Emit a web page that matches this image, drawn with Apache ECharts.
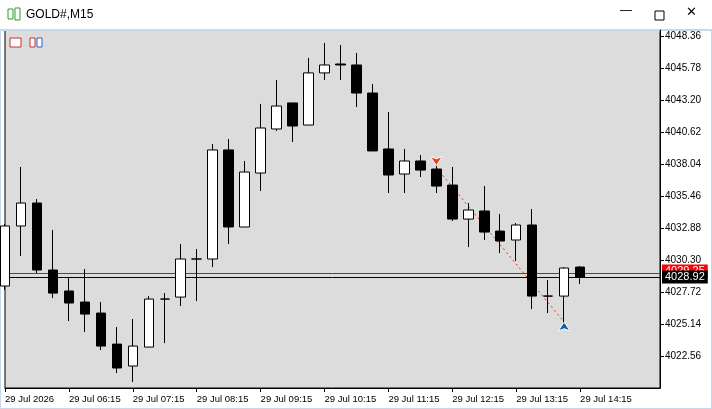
<!DOCTYPE html>
<html>
<head>
<meta charset="utf-8">
<script src="https://cdn.jsdelivr.net/npm/echarts@6/dist/echarts.min.js"></script>
<style>
  html, body { margin: 0; padding: 0; background: #fff; }
  #main { width: 712px; height: 409px; }
</style>
</head>
<body>
<div id="main"></div>
<script>
// M15 时间
var times = ['05:15','05:30','05:45','06:00','06:15','06:30','06:45','07:00','07:15','07:30','07:45','08:00',
  '08:15','08:30','08:45','09:00','09:15','09:30','09:45','10:00','10:15','10:30','10:45','11:00',
  '11:15','11:30','11:45','12:00','12:15','12:30','12:45','13:00','13:15','13:30','13:45','14:00',
  '14:15','14:30','14:45','15:00','15:15','15:30'];

// [open, close, low, high]
var candles = [
  [4028.20, 4033.04, 4027.90, 4033.20],
  [4033.04, 4034.89, 4030.62, 4037.80],
  [4034.89, 4029.49, 4029.25, 4035.21],
  [4029.49, 4027.63, 4027.23, 4032.72],
  [4027.80, 4026.83, 4025.38, 4028.92],
  [4026.91, 4025.94, 4024.49, 4029.57],
  [4026.02, 4023.36, 4023.04, 4026.91],
  [4023.52, 4021.59, 4021.18, 4024.89],
  [4021.75, 4023.36, 4020.46, 4025.54],
  [4023.28, 4027.15, 4023.28, 4027.39],
  [4027.15, 4027.15, 4023.60, 4027.63],
  [4027.31, 4030.38, 4026.59, 4031.59],
  [4030.38, 4030.38, 4026.99, 4031.18],
  [4030.38, 4039.17, 4029.73, 4039.65],
  [4039.17, 4032.96, 4031.59, 4040.05],
  [4032.96, 4037.39, 4032.96, 4038.28],
  [4037.31, 4040.94, 4035.86, 4042.88],
  [4040.86, 4042.71, 4040.70, 4044.81],
  [4042.96, 4041.10, 4039.81, 4042.96],
  [4041.18, 4045.38, 4041.18, 4046.59],
  [4045.38, 4046.02, 4044.81, 4047.80],
  [4046.10, 4046.02, 4044.81, 4047.63],
  [4046.02, 4043.76, 4042.63, 4046.99],
  [4043.76, 4039.09, 4039.09, 4044.49],
  [4039.25, 4037.15, 4035.70, 4042.23],
  [4037.23, 4038.28, 4035.70, 4039.25],
  [4038.28, 4037.55, 4036.99, 4038.76],
  [4037.63, 4036.26, 4035.70, 4038.36],
  [4036.34, 4033.60, 4033.44, 4037.80],
  [4033.60, 4034.33, 4031.34, 4034.89],
  [4034.25, 4032.55, 4031.91, 4036.26],
  [4032.63, 4031.83, 4030.86, 4034.01],
  [4031.91, 4033.12, 4030.22, 4033.28],
  [4033.12, 4027.39, 4026.34, 4034.41],
  [4027.39, 4027.39, 4026.02, 4028.68],
  [4027.39, 4029.65, 4024.97, 4029.73],
  [4029.73, 4028.92, 4028.36, 4029.81]
];

var askPrice = 4029.25;
var bidPrice = 4028.92;
// 交易线: [索引, 价格]
var tradeOpen = [27, 4037.75];
var tradeClose = [35, 4025.30];

var chart = echarts.init(document.getElementById('main'));
var font = 'Liberation Sans, DejaVu Sans, sans-serif';

var option = {
  backgroundColor: '#fff',
  animation: false,
  textStyle: { fontFamily: font },
  graphic: [
    { type: 'rect', shape: { x: 0, y: 0, width: 712, height: 30 }, style: { fill: '#ffffff' } },
    { type: 'rect', shape: { x: 8, y: 9, width: 5, height: 10 }, style: { fill: '#fff', stroke: '#2a9d2a', lineWidth: 1 } },
    { type: 'rect', shape: { x: 15, y: 8, width: 5, height: 12 }, style: { fill: '#fff', stroke: '#2a9d2a', lineWidth: 1 } },
    { type: 'text', left: 26, top: 9, style: { text: 'GOLD#,M15', font: '12px ' + font, fill: '#000' } },
    { type: 'text', left: 620, top: 5, style: { text: '—', font: '12px ' + font, fill: '#000' } },
    { type: 'rect', shape: { x: 655, y: 11, width: 9, height: 9 }, style: { fill: 'none', stroke: '#000', lineWidth: 1 } },
    { type: 'text', left: 686, top: 6, style: { text: '✕', font: '13px ' + font, fill: '#000' } },
    { type: 'rect', shape: { x: 0, y: 30, width: 712, height: 379 }, style: { fill: 'none', stroke: '#c8d8e8', lineWidth: 2 } },
    // 左上角小图标
    { type: 'rect', shape: { x: 10, y: 38, width: 11, height: 9 }, style: { fill: '#fff', stroke: '#c03030', lineWidth: 1 } },
    { type: 'rect', shape: { x: 30, y: 38, width: 5, height: 9 }, style: { fill: '#fff', stroke: '#c03030', lineWidth: 1 } },
    { type: 'rect', shape: { x: 37, y: 38, width: 5, height: 9 }, style: { fill: '#fff', stroke: '#3060c0', lineWidth: 1 } }
  ],
  grid: {
    left: 5, right: 52, top: 30, bottom: 21,
    show: true, backgroundColor: '#dcdcdc', borderColor: '#000', borderWidth: 1
  },
  xAxis: {
    type: 'category',
    data: times,
    boundaryGap: false,
    axisLine: { lineStyle: { color: '#000' } },
    axisTick: { show: true, length: 4, interval: function (i) { return i % 4 === 0 && i <= 36; }, lineStyle: { color: '#000' } },
    axisLabel: {
      interval: function (i) { return i % 4 === 0 && i <= 36; },
      align: 'left', color: '#000', fontSize: 9.5, margin: 6,
      formatter: function (v, i) { return i === 0 ? '29 Jul 2026' : '29 Jul ' + v; }
    },
    splitLine: { show: false }
  },
  yAxis: {
    type: 'value',
    position: 'right',
    scale: true,
    min: 4019.98, max: 4048.84, interval: 2.58,
    axisLine: { show: true, lineStyle: { color: '#000' } },
    axisTick: { show: true, length: 4, lineStyle: { color: '#000' } },
    axisLabel: {
      color: '#000', fontSize: 10, margin: 5, showMinLabel: false, showMaxLabel: false,
      formatter: function (v) { return v.toFixed(2); }
    },
    splitLine: { show: false }
  },
  series: [
    {
      type: 'candlestick',
      data: candles,
      barWidth: 10,
      itemStyle: { color: '#fff', color0: '#000', borderColor: '#000', borderColor0: '#000', borderWidth: 1 },
      markLine: {
        silent: true,
        symbol: ['none', 'none'],
        z: 1,
        data: [
          { yAxis: askPrice, lineStyle: { color: '#ff0000', type: 'solid', width: 1, opacity: 1 },
            label: { position: 'end', formatter: askPrice.toFixed(2), color: '#fff', backgroundColor: '#ff0000', padding: [1, 3], fontSize: 11, distance: 2, offset: [0, -2] } },
          { yAxis: bidPrice, lineStyle: { color: '#000', type: 'solid', width: 1, opacity: 1 },
            label: { position: 'end', formatter: bidPrice.toFixed(2), color: '#fff', backgroundColor: '#000', padding: [1, 3], fontSize: 11, distance: 2 } },
          [
            { coord: tradeOpen, lineStyle: { color: '#ff2a00', type: [2, 3], width: 1, opacity: 1 } },
            { coord: tradeClose }
          ]
        ],
        label: { show: true }
      },
      markPoint: {
        silent: true,
        label: { show: false },
        data: [
          { coord: tradeOpen, symbol: 'arrow', symbolRotate: 180, symbolSize: [9, 9], symbolOffset: [0, -2],
            itemStyle: { color: '#e8401c', borderColor: '#fff', borderWidth: 1 } },
          { coord: tradeClose, symbol: 'arrow', symbolSize: [9, 9], symbolOffset: [0, 0],
            itemStyle: { color: '#1060b0', borderColor: '#fff', borderWidth: 1 } }
        ]
      }
    }
  ]
};

chart.setOption(option);
</script>
</body>
</html>
